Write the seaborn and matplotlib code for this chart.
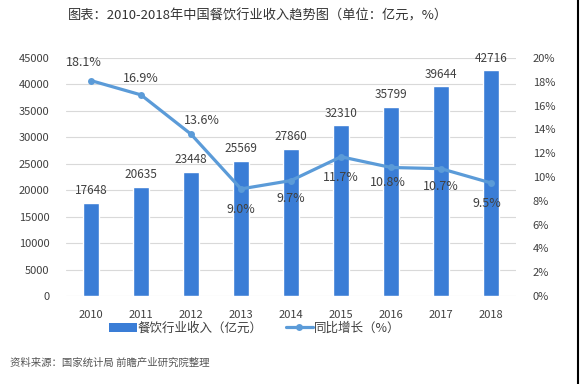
import matplotlib
matplotlib.use("Agg")
import matplotlib.pyplot as plt
import seaborn as sns
import pandas as pd
from matplotlib.lines import Line2D
from matplotlib.patches import Patch

years = ["2010", "2011", "2012", "2013", "2014", "2015", "2016", "2017", "2018"]
revenue = [17648, 20635, 23448, 25569, 27860, 32310, 35799, 39644, 42716]
growth = [18.1, 16.9, 13.6, 9.0, 9.7, 11.7, 10.8, 10.7, 9.5]
left_ticks = [0, 5000, 10000, 15000, 20000, 25000, 30000, 35000, 40000, 45000]
right_ticks = [0, 2, 4, 6, 8, 10, 12, 14, 16, 18, 20]
title = "图表：2010-2018年中国餐饮行业收入趋势图（单位：亿元，%）"
bar_name = "餐饮行业收入（亿元）"
line_name = "同比增长（%）"
source = "资料来源：国家统计局 前瞻产业研究院整理"

# label offsets (points) for growth labels
label_dx = [-5, 0, 8, 0, 0, 0, -2, 0, -3]
label_dy = [13, 12, 10, -15, -13, -15, -11, -13, -15]

sns.set_theme(style="white")
plt.rcParams['font.family'] = ['Noto Sans CJK SC', 'DejaVu Sans']

BAR_C = "#3A7DD6"
LINE_C = "#5B9BD8"
TXT = "#404040"

df = pd.DataFrame({"year": years, "revenue": revenue, "growth": growth})

fig = plt.figure(figsize=(5.8, 3.84), dpi=100)
ax = fig.add_axes([66/580, 88/384, 450/580, 238/384])
sns.barplot(data=df, x="year", y="revenue", color=BAR_C, width=0.32, ax=ax,
            saturation=1, zorder=2)
ax.set_ylim(0, 45000)
ax.set_yticks(left_ticks)
ax.set_yticklabels([str(t) for t in left_ticks])
ax.set_xlim(-0.5, len(years) - 0.5)
ax.grid(axis="y", color="#D9D9D9", linewidth=0.8, zorder=0)
ax.grid(axis="x", visible=False)
for s in ax.spines.values():
    s.set_visible(False)
ax.set_xlabel("")
ax.set_ylabel("")
ax.tick_params(axis="both", length=0, labelsize=8, colors=TXT, pad=10)
ax.tick_params(axis="y", pad=12)

for i, v in enumerate(revenue):
    ax.annotate(str(v), (i, v), xytext=(0, 4), textcoords="offset points",
                ha="center", va="bottom", fontsize=8.5, color=TXT)

ax2 = ax.twinx()
sns.lineplot(x=list(range(len(years))), y=growth, ax=ax2, color=LINE_C,
             linewidth=2.3, marker="o", markersize=5, markeredgewidth=0, zorder=3)
ax2.set_ylim(0, 20)
ax2.set_yticks(right_ticks)
ax2.set_yticklabels([f"{t}%" for t in right_ticks])
ax2.tick_params(axis="y", length=0, labelsize=8, colors=TXT, pad=12)
for s in ax2.spines.values():
    s.set_visible(False)
ax2.grid(False)
ax2.set_ylabel("")

for i, g in enumerate(growth):
    ax2.annotate(f"{g:.1f}%", (i, g), xytext=(label_dx[i], label_dy[i]),
                 textcoords="offset points", ha="center", va="center",
                 fontsize=9, color=TXT)

fig.text(68/580, 1 - 16/384, title, fontsize=9.5, color="#333333",
         ha="left", va="center")

handles = [Patch(facecolor=BAR_C, edgecolor="none"),
           Line2D([0], [0], color=LINE_C, linewidth=2.3, marker="o",
                  markersize=5, markeredgewidth=0)]
fig.legend(handles, [bar_name, line_name], loc="center",
           bbox_to_anchor=(255/580, 1 - 328/384), ncol=2, frameon=False,
           fontsize=9, handlelength=2.2, handletextpad=0.1, columnspacing=1.8,
           labelcolor=TXT)

fig.text(10/580, 1 - 363/384, source, fontsize=7.5, color="#555555",
         style="italic", ha="left", va="center")

fig.add_artist(Line2D([578/580, 578/580], [0, 1], color="black", linewidth=1.5,
                      transform=fig.transFigure))

fig.savefig("out.png", dpi=100)
